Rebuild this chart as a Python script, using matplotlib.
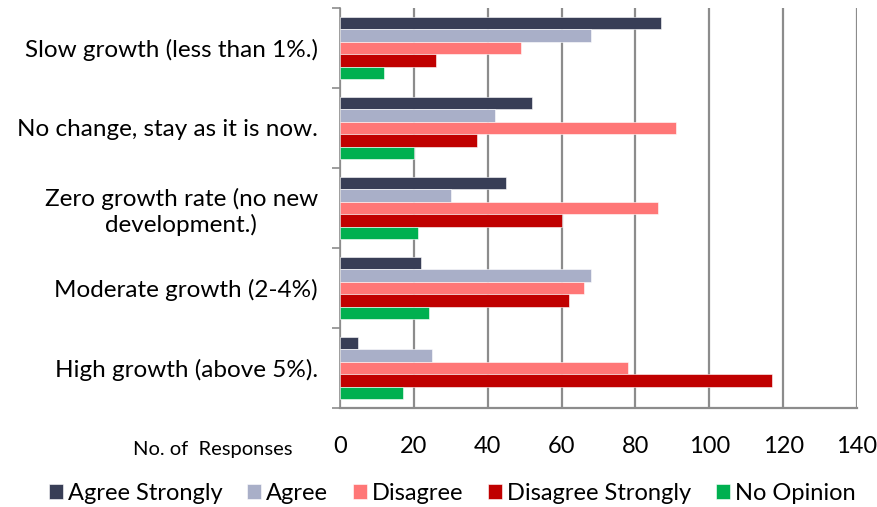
import numpy as np
import matplotlib.pyplot as plt

# Categories (top to bottom) and series values
categories = ["Slow growth (less than 1%.)",
              "No change, stay as it is now.",
              "Zero growth rate (no new\ndevelopment.)",
              "Moderate growth (2-4%)",
              "High growth (above 5%)."]
series_names = ["Agree Strongly", "Agree", "Disagree", "Disagree Strongly", "No Opinion"]
agree_strongly = [87, 52, 45, 22, 5]
agree = [68, 42, 30, 68, 25]
disagree = [49, 91, 86, 66, 78]
disagree_strongly = [26, 37, 60, 62, 117]
no_opinion = [12, 20, 21, 24, 17]
x_ticks = [0, 20, 40, 60, 80, 100, 120, 140]

colors = ["#383E56", "#A9AFC8", "#FF7777", "#C00000", "#00B050"]
values = [agree_strongly, agree, disagree, disagree_strongly, no_opinion]

plt.rcParams['font.family'] = ['Lato', 'DejaVu Sans']

fig = plt.figure(figsize=(8.78, 5.07), dpi=100)
ax = fig.add_axes([340 / 878, 1 - 408 / 507, (857 - 340) / 878, 400 / 507])

n = len(series_names)
h = 0.156
y = np.arange(len(categories))
for k in range(n):
    ax.barh(y - 0.39 + h * (k + 0.5), values[k], height=h, color=colors[k],
            edgecolor="white", linewidth=0.4, label=series_names[k], zorder=3)

ax.set_xlim(0, 140)
ax.set_ylim(len(categories) - 0.5, -0.5)
ax.set_xticks(x_ticks)
ax.tick_params(axis="x", length=0, pad=20, labelsize=17)
ax.xaxis.grid(True, color="#8C8C8C", linewidth=1.6, zorder=0)

# category separators as major ticks, labels as minor ticks
ax.set_yticks(np.arange(-0.5, len(categories), 1.0))
ax.set_yticklabels([])
ax.tick_params(axis="y", which="major", length=6, width=1.2, color="#8C8C8C")
ax.set_yticks(y, minor=True)
ax.set_yticklabels(categories, minor=True, fontsize=17.5, multialignment="center")
ax.tick_params(axis="y", which="minor", length=0, pad=16)

for s in ["top", "right"]:
    ax.spines[s].set_visible(False)
ax.spines["left"].set_color("#8C8C8C")
ax.spines["left"].set_linewidth(1.2)
ax.spines["bottom"].set_color("#8C8C8C")
ax.spines["bottom"].set_linewidth(1.6)

fig.text(213 / 878, 1 - 449 / 507, "No. of  Responses", ha="center", va="center", fontsize=14.5)

fig.legend(loc="center", bbox_to_anchor=(452 / 878, 1 - 493 / 507), ncol=5,
           frameon=False, fontsize=17, handlelength=0.6, handleheight=0.6,
           handletextpad=0.2, columnspacing=1.05, borderaxespad=0)

plt.savefig("out.png", dpi=100)
